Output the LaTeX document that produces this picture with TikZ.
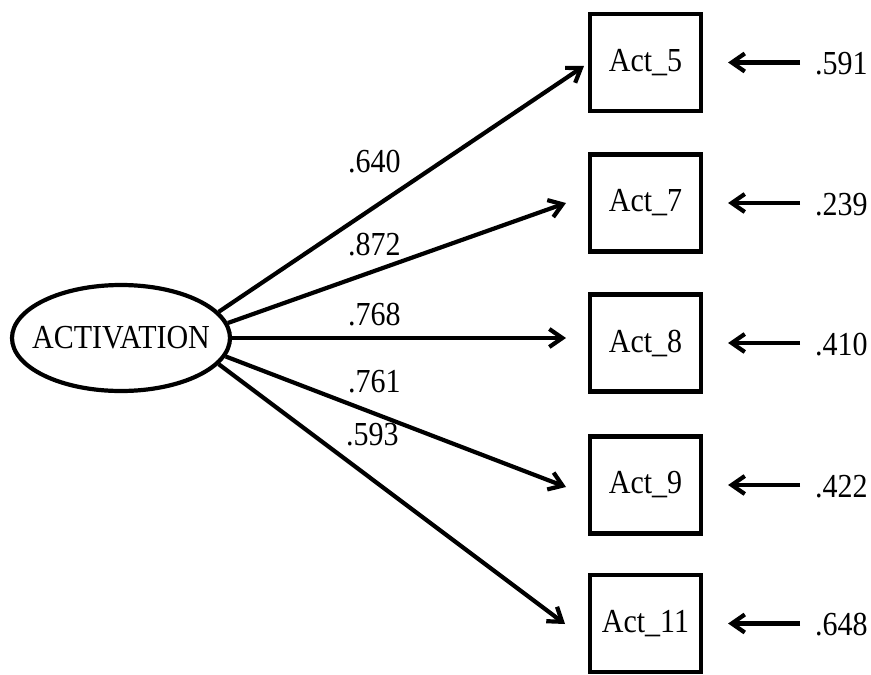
\documentclass[tikz,border=0pt]{standalone}
\usepackage{fontspec}
\usepackage{graphicx}
\setmainfont{Liberation Serif}
\usetikzlibrary{arrows.meta,shapes.geometric}
\newcommand\tx[1]{\scalebox{1}[1.12]{#1}}
\begin{document}
\begin{tikzpicture}[x=1pt,y=-1pt,
  every node/.style={font=\fontsize{30}{35}\selectfont},
  box/.style={draw,line width=4.2pt,minimum width=111pt,minimum height=97pt,inner sep=0pt},
  latent/.style={draw,ellipse,line width=4.2pt,minimum width=218pt,minimum height=106pt,inner xsep=-16pt,inner ysep=0pt},
  arr/.style={line width=4.2pt,-{Straight Barb[length=13pt,width=18pt,line width=4.2pt]}},
  lab/.style={anchor=base west,inner sep=0pt}
]
\useasboundingbox (0,0) rectangle (871,675);
\node[latent] (act) at (121,338) {\tx{ACTIVATION}};
\node[box] (b1) at (645.5,62.5) {\tx{Act\_5}};
\node[box] (b2) at (645.5,203) {\tx{Act\_7}};
\node[box] (b3) at (645.5,343) {\tx{Act\_8}};
\node[box] (b4) at (645.5,485) {\tx{Act\_9}};
\node[box] (b5) at (645.5,623.5) {\tx{Act\_11}};
\coordinate (e1) at (584,66);
\coordinate (e2) at (566,203);
\coordinate (e3) at (566,338);
\coordinate (e4) at (566,487);
\coordinate (e5) at (565,624);
\draw[arr] (act.15) -- (e1);
\draw[arr] (act.8.5) -- (e2);
\draw[arr] (act.0) -- (e3);
\draw[arr] (act.-10) -- (e4);
\draw[arr] (act.-15.5) -- (e5);
\node[lab] (l1) at (348,172) {\tx{.640}};
\node[lab] (l2) at (348,255) {\tx{.872}};
\node[lab] (l3) at (348,325) {\tx{.768}};
\node[lab] (l4) at (348,392) {\tx{.761}};
\node[lab] (l5) at (346,445) {\tx{.593}};
\foreach \i/\v/\y in {1/.591/62.5,2/.239/203,3/.410/343,4/.422/485,5/.648/623.5}{
  \coordinate (s\i) at (800,\y);
  \draw[arr,shorten >=25pt] (s\i) -- (b\i.east);
  \node[lab] (r\i) at (815,\y+12) {\tx{\v}};
}
\end{tikzpicture}
\end{document}
